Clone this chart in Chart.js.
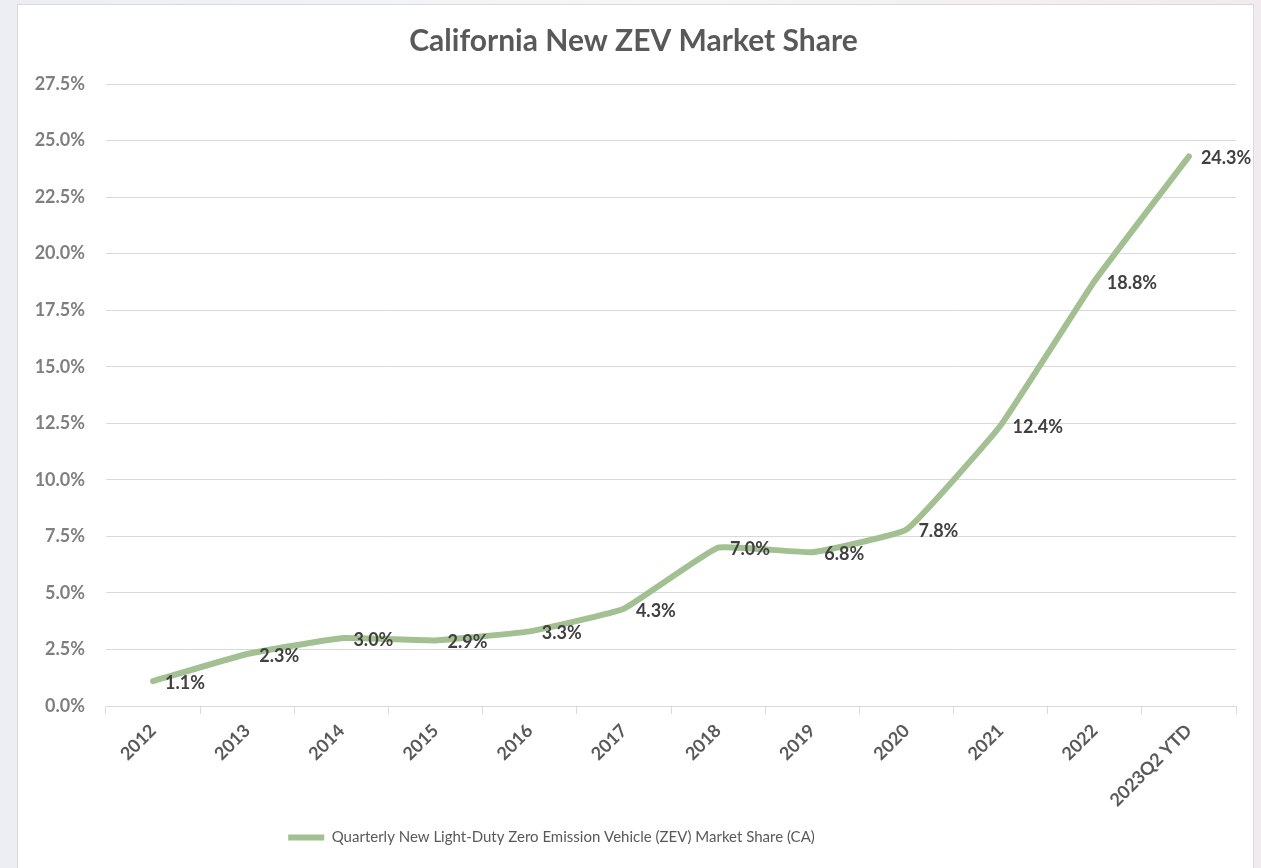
<!DOCTYPE html>
<html>
<head>
<meta charset="utf-8">
<title>California New ZEV Market Share</title>
<script src="https://cdn.jsdelivr.net/npm/chart.js@4.4.0/dist/chart.umd.min.js"></script>
<style>
  html, body {
    margin: 0;
    padding: 0;
    width: 1261px;
    height: 868px;
    overflow: hidden;
    background: linear-gradient(90deg, #eceef3 0%, #f6f6f8 50%, #f1eaee 100%);
    font-family: Lato, "Open Sans", sans-serif;
  }
  #chartBox {
    position: absolute;
    left: 17px;
    top: 4px;
    width: 1237px;
    height: 880px;
    background: #ffffff;
    border: 1px solid #d9d9d9;
    box-sizing: border-box;
  }
  #zevChart {
    position: absolute;
    left: 0;
    top: 0;
  }
</style>
</head>
<body>
<div id="chartBox">
  <canvas id="zevChart" width="1237" height="864"></canvas>
</div>

<script>
// data
const years = ['2012', '2013', '2014', '2015', '2016', '2017', '2018', '2019', '2020', '2021', '2022', '2023Q2 YTD'];
const marketShare = [1.1, 2.3, 3.0, 2.9, 3.3, 4.3, 7.0, 6.8, 7.8, 12.4, 18.8, 24.3];
const shareLabels = ['1.1%', '2.3%', '3.0%', '2.9%', '3.3%', '4.3%', '7.0%', '6.8%', '7.8%', '12.4%', '18.8%', '24.3%'];
const seriesName = 'Quarterly New Light-Duty Zero Emission Vehicle (ZEV) Market Share (CA)';

const lineGreen = 'rgb(163, 192, 146)';
const gridGray = '#d9d9d9';
const fontName = 'Lato, "Open Sans", sans-serif';

// small plugin to put the value labels to the right of every point (like excel)
const pointLabels = {
  id: 'pointLabels',
  afterDatasetsDraw(chart) {
    const ctx = chart.ctx;
    const meta = chart.getDatasetMeta(0);
    ctx.save();
    ctx.font = 'bold 18px ' + fontName;
    ctx.fillStyle = '#404040';
    ctx.textAlign = 'left';
    ctx.textBaseline = 'middle';
    meta.data.forEach((pt, i) => {
      ctx.fillText(shareLabels[i], pt.x + 12, pt.y + 2);
    });
    ctx.restore();
  }
};

// the legend in the original sits a bit left of the middle
const legendShift = {
  id: 'legendShift',
  afterLayout(chart) {
    chart.legend.left -= 82;
    chart.legend.right -= 82;
  }
};

function createChart() {
  const ctx = document.getElementById('zevChart').getContext('2d');

  new Chart(ctx, {
    type: 'line',
    data: {
      labels: years,
      datasets: [{
        label: seriesName,
        data: marketShare,
        borderColor: lineGreen,
        backgroundColor: lineGreen,
        borderWidth: 6,
        borderCapStyle: 'round',
        borderJoinStyle: 'round',
        pointRadius: 0,
        pointStyle: 'line',
        tension: 0.1,
        fill: false,
      }],
    },
    options: {
      responsive: false,
      animation: false,
      layout: {
        padding: { left: 13, right: 19, top: 0, bottom: 14 },
      },
      plugins: {
        title: {
          display: true,
          text: 'California New ZEV Market Share',
          color: '#595959',
          font: { family: fontName, size: 30, weight: 'bold' },
          padding: { top: 18, bottom: 25 },
        },
        legend: {
          position: 'bottom',
          labels: {
            color: '#595959',
            font: { family: fontName, size: 15 },
            usePointStyle: true,
            pointStyle: 'line',
            pointStyleWidth: 36,
            padding: 10,
          },
        },
        tooltip: { enabled: false },
      },
      scales: {
        x: {
          offset: true,
          grid: {
            display: true,
            offset: true,
            drawOnChartArea: false,
            drawTicks: true,
            tickLength: 8,
            color: gridGray,
          },
          border: { display: true, color: gridGray },
          ticks: {
            color: '#595959',
            font: { family: fontName, size: 18, weight: 'bold' },
            minRotation: 45,
            maxRotation: 45,
            padding: 6,
          },
          afterFit(scale) {
            // fixed axis height, and don't let the rotated labels push the plot right
            scale.height = 114;
            scale.paddingLeft = 0;
            scale.paddingRight = 0;
          },
        },
        y: {
          min: 0,
          max: 27.5,
          grid: {
            color: gridGray,
            drawTicks: false,
          },
          border: { display: false },
          ticks: {
            stepSize: 2.5,
            color: '#7f7f7f',
            font: { family: fontName, size: 18, weight: 'bold' },
            padding: 21,
            callback: value => value.toFixed(1) + '%',
          },
          afterFit(scale) {
            scale.width = 75;
          },
        },
      },
    },
    plugins: [pointLabels, legendShift],
  });
}

document.addEventListener('DOMContentLoaded', function () {
  createChart();
});
</script>
</body>
</html>
